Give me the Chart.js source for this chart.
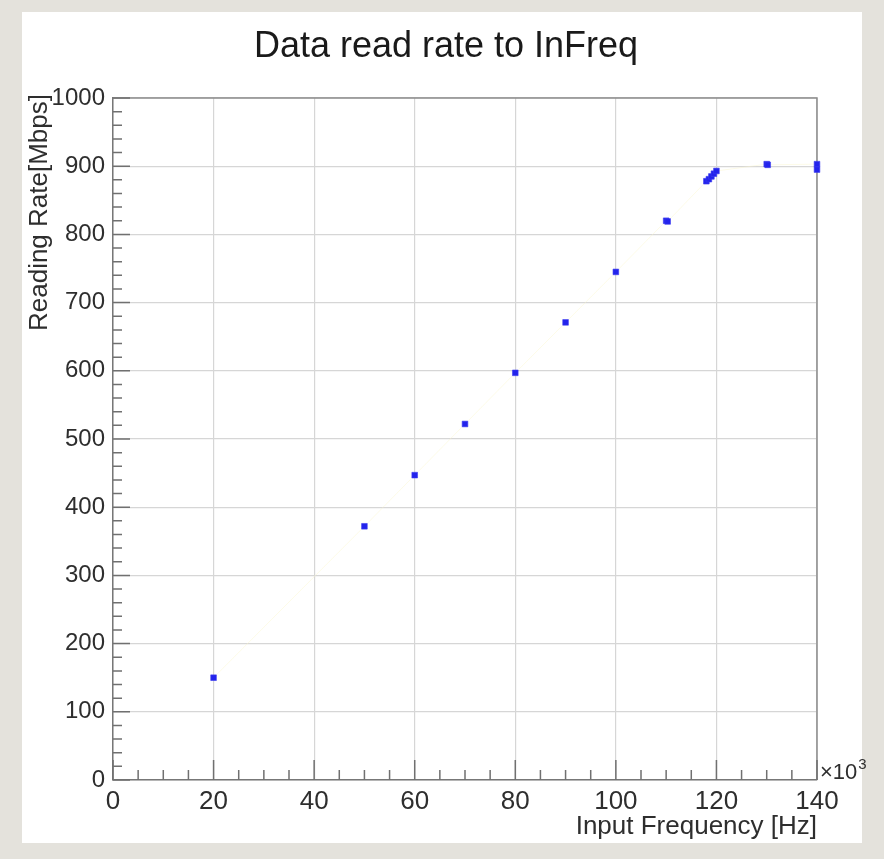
<!DOCTYPE html>
<html>
<head>
<meta charset="utf-8">
<title>Data read rate to InFreq</title>
<script src="https://cdn.jsdelivr.net/npm/chart.js@4.4.1/dist/chart.umd.min.js"></script>
<style>
  html, body { margin: 0; padding: 0; background: #e4e2dc; }
  #chart { display: block; }
</style>
</head>
<body>
<canvas id="chart" width="884" height="859"></canvas>
<script>
// Input frequency [Hz] and reading rate [Mbps]
const inputFreq = [20000, 50000, 60000, 70000, 80000, 90000, 100000, 110000, 110300,
                   118000, 118500, 119000, 119500, 120000, 130000, 130200, 140000, 140000];
const readRate = [150, 372, 447, 522, 597, 671, 745, 820, 819,
                  878, 881, 885, 889, 893, 903, 902, 903, 895];

const xTicks = [0, 20, 40, 60, 80, 100, 120, 140]; // x10^3
const yTicks = [0, 100, 200, 300, 400, 500, 600, 700, 800, 900, 1000];

const chartTitle = 'Data read rate to InFreq';
const xTitle = 'Input Frequency [Hz]';
const yTitle = 'Reading Rate[Mbps]';

const FONT = '"Liberation Sans", Arial, Helvetica, sans-serif';

// Fondo de papel + panel blanco
const backgroundPlugin = {
    id: 'paper',
    beforeDraw(chart) {
        const ctx = chart.ctx;
        ctx.save();
        ctx.fillStyle = '#e4e2dc';
        ctx.fillRect(0, 0, chart.width, chart.height);
        ctx.fillStyle = '#ffffff';
        ctx.fillRect(22, 12, 840, 831);
        ctx.restore();
    }
};

// Marcas interiores estilo ROOT, marco y textos
const rootAxesPlugin = {
    id: 'rootAxes',
    beforeDatasetsDraw(chart) {
        const ctx = chart.ctx;
        const area = chart.chartArea;
        const xs = chart.scales.x;
        const ys = chart.scales.y;
        ctx.save();

        // marco superior y derecho
        ctx.strokeStyle = '#8c8c8c';
        ctx.lineWidth = 1.5;
        ctx.beginPath();
        ctx.moveTo(area.left, area.top);
        ctx.lineTo(area.right, area.top);
        ctx.lineTo(area.right, area.bottom);
        ctx.stroke();

        // marcas del eje x (cada 5e3, mayores cada 20e3)
        ctx.strokeStyle = '#707070';
        ctx.beginPath();
        for (let v = 0; v <= 140000; v += 5000) {
            const px = xs.getPixelForValue(v);
            const len = v % 20000 === 0 ? 20 : 10;
            ctx.moveTo(px, area.bottom);
            ctx.lineTo(px, area.bottom - len);
        }
        // marcas del eje y (cada 20, mayores cada 100)
        for (let v = 0; v <= 1000; v += 20) {
            const py = ys.getPixelForValue(v);
            const len = v % 100 === 0 ? 17 : 9;
            ctx.moveTo(area.left, py);
            ctx.lineTo(area.left + len, py);
        }
        ctx.stroke();
        ctx.restore();
    },
    afterDatasetsDraw(chart) {
        const ctx = chart.ctx;
        const area = chart.chartArea;
        ctx.save();
        ctx.fillStyle = '#1a1a1a';
        // título
        ctx.font = '36px ' + FONT;
        ctx.textAlign = 'center';
        ctx.textBaseline = 'alphabetic';
        ctx.fillText(chartTitle, 446, 57);

        // título eje x
        ctx.font = '26px ' + FONT;
        ctx.fillStyle = '#2e2e2e';
        ctx.textAlign = 'right';
        ctx.fillText(xTitle, area.right, 834);

        // x10^3
        ctx.textAlign = 'left';
        ctx.font = '22px ' + FONT;
        ctx.fillText('\u00d710', 820, 779);
        const w = ctx.measureText('\u00d710').width;
        ctx.font = '15px ' + FONT;
        ctx.fillText('3', 820 + w + 1, 769);

        // título eje y
        ctx.font = '26px ' + FONT;
        ctx.translate(47, area.top - 4);
        ctx.rotate(-Math.PI / 2);
        ctx.textAlign = 'right';
        ctx.fillText(yTitle, 0, 0);
        ctx.restore();
    }
};

const ctx = document.getElementById('chart').getContext('2d');
new Chart(ctx, {
    type: 'scatter',
    data: {
        datasets: [{
            data: inputFreq.map((f, i) => ({ x: f, y: readRate[i] })),
            clip: false,
            showLine: true,
            borderColor: 'rgba(250, 246, 205, 0.45)',
            borderWidth: 1,
            pointStyle: 'rect',
            pointRadius: 4,
            pointBackgroundColor: '#2323ec',
            pointBorderColor: 'rgba(60, 60, 240, 0.6)',
            pointBorderWidth: 1
        }]
    },
    options: {
        responsive: false,
        animation: false,
        devicePixelRatio: 1,
        layout: { padding: { left: 0, top: 98, right: 67, bottom: 0 } },
        plugins: {
            legend: { display: false },
            tooltip: { enabled: false }
        },
        scales: {
            x: {
                type: 'linear',
                min: 0,
                max: 140000,
                afterBuildTicks: scale => {
                    scale.ticks = xTicks.map(v => ({ value: v * 1000 }));
                },
                afterFit: scale => { scale.height = 79; },
                ticks: {
                    callback: v => String(v / 1000),
                    font: { family: FONT, size: 26 },
                    color: '#2e2e2e',
                    padding: 6,
                    maxRotation: 0
                },
                grid: { color: '#d6d6d6', lineWidth: 1.2, drawTicks: false },
                border: { color: '#777777', width: 1.5 }
            },
            y: {
                min: 0,
                max: 1000,
                afterBuildTicks: scale => {
                    scale.ticks = yTicks.map(v => ({ value: v }));
                },
                afterFit: scale => { scale.width = 113; },
                ticks: {
                    callback: v => String(v),
                    font: { family: FONT, size: 24 },
                    color: '#2e2e2e',
                    padding: 8
                },
                grid: { color: '#d6d6d6', lineWidth: 1.2, drawTicks: false },
                border: { color: '#777777', width: 1.5 }
            }
        }
    },
    plugins: [backgroundPlugin, rootAxesPlugin]
});
</script>
</body>
</html>
